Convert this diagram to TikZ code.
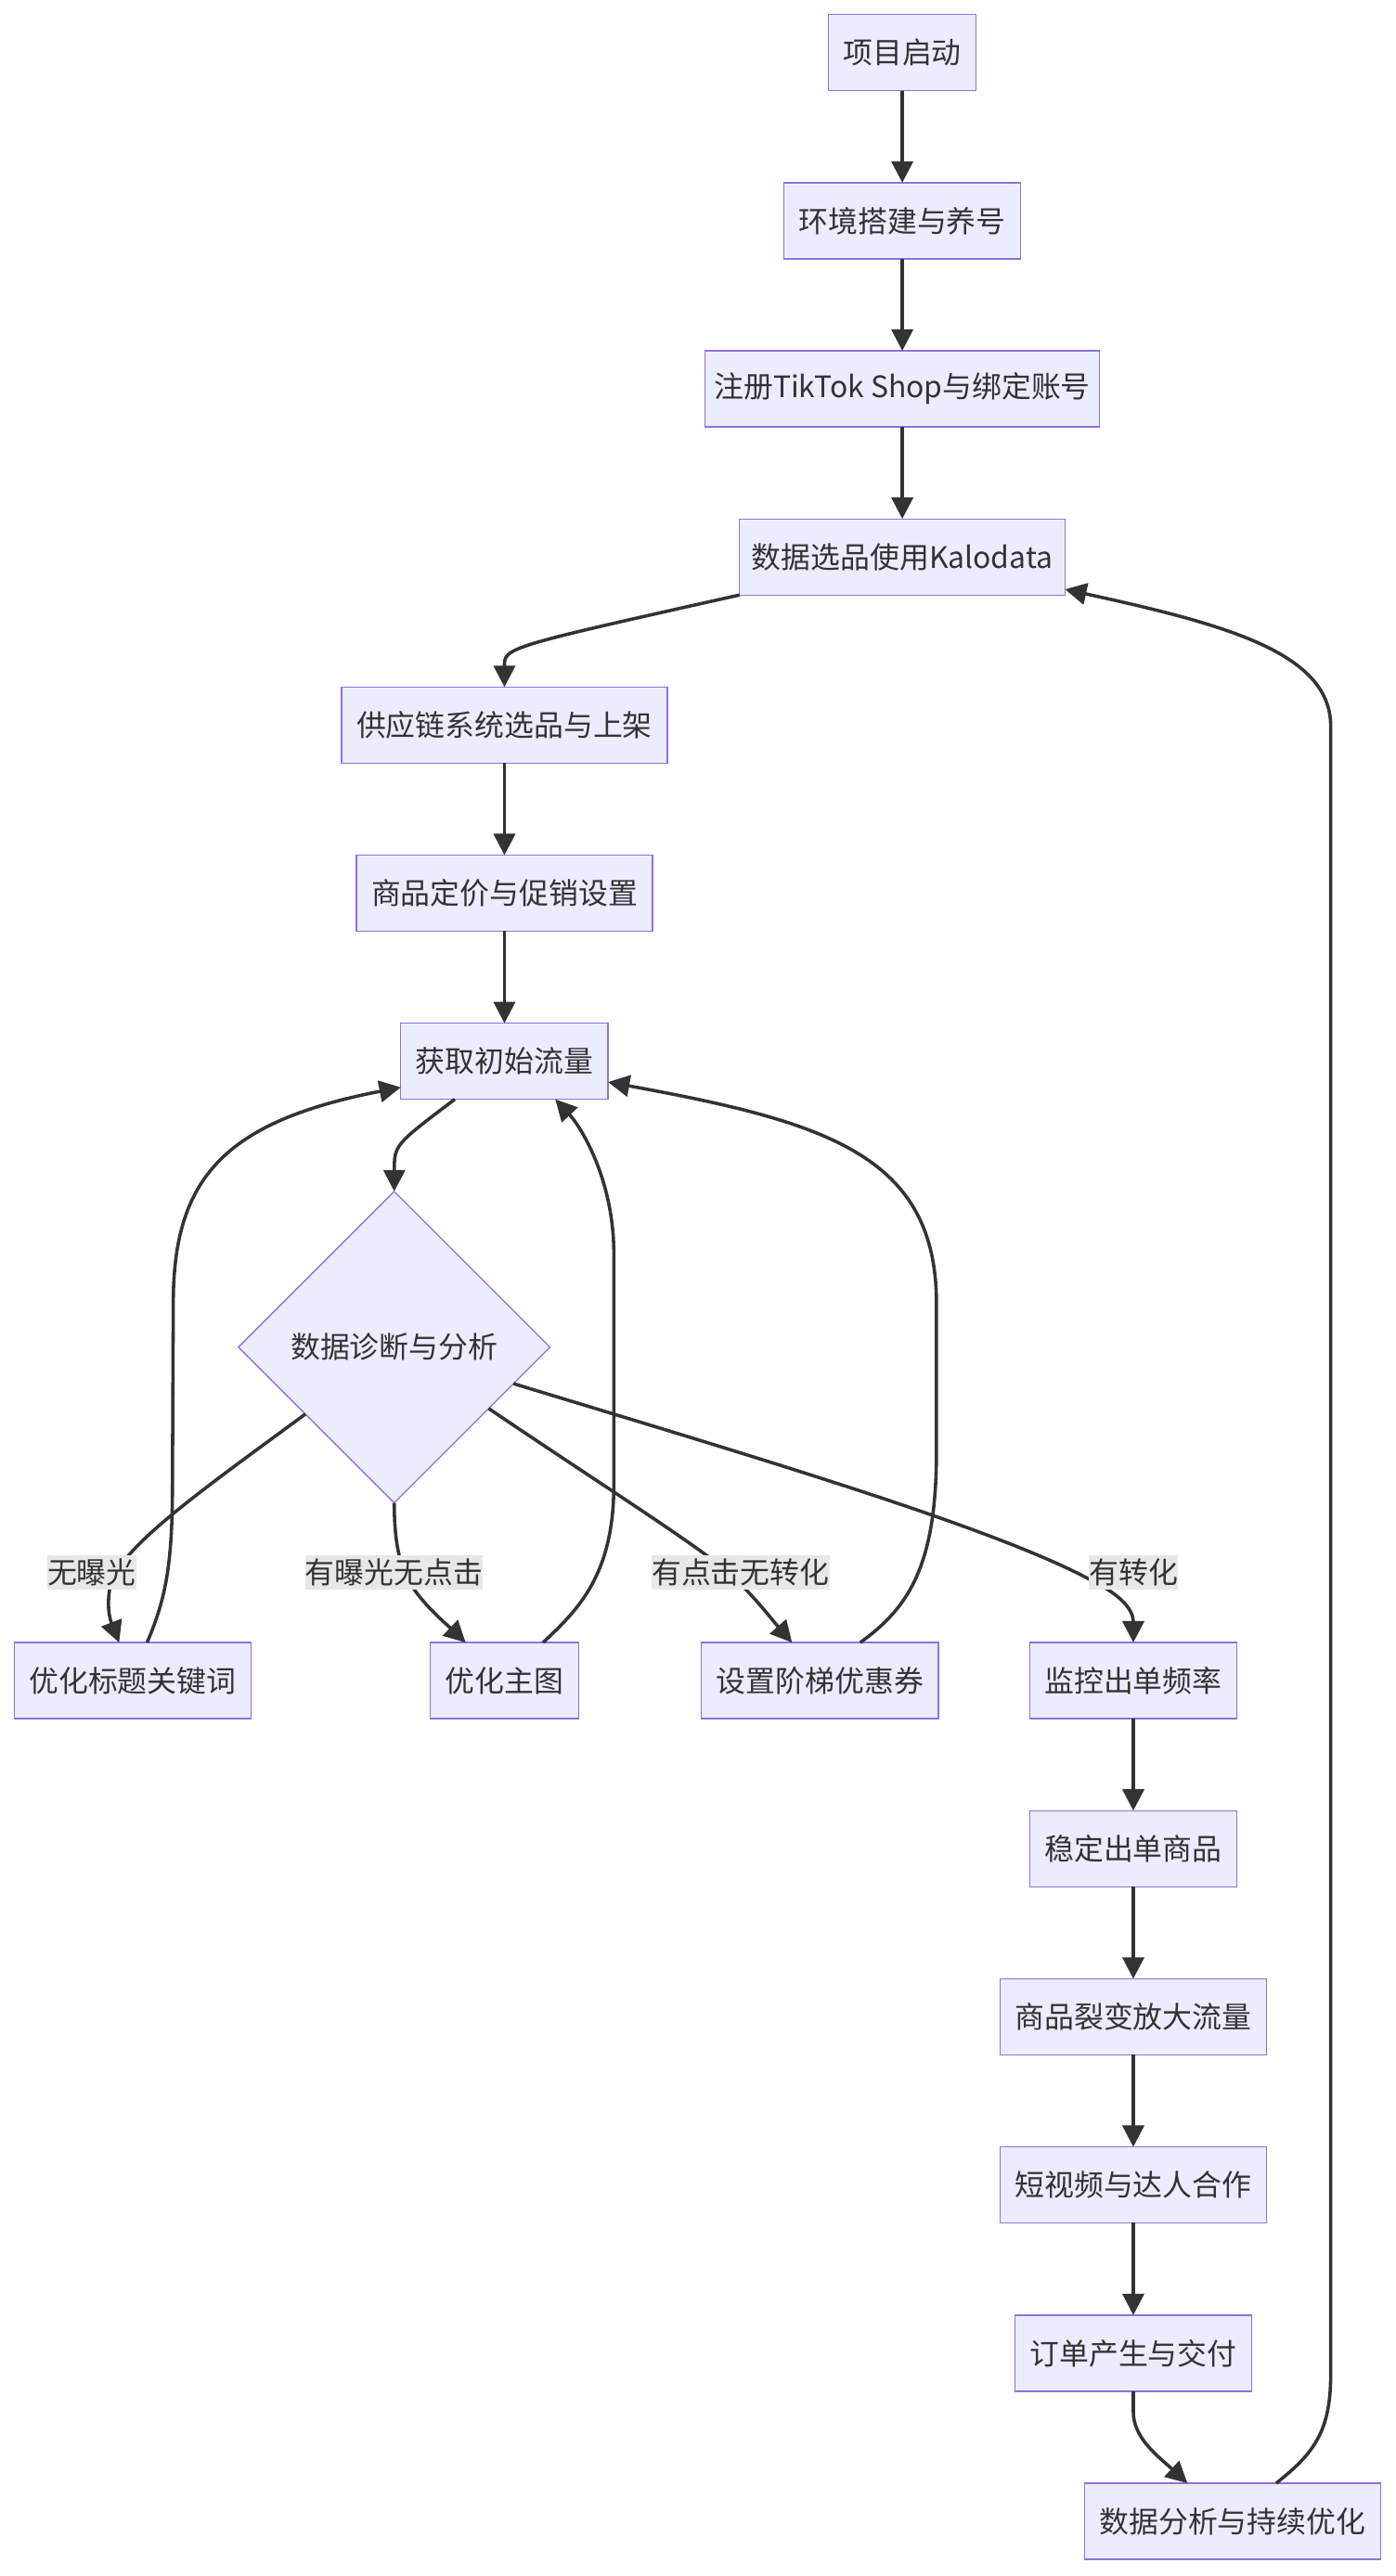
\documentclass[tikz,border=0pt]{standalone}
\usepackage{fontspec}
\newfontfamily\cjkf{Noto Sans CJK SC}
\usetikzlibrary{arrows.meta,shapes.geometric}
\definecolor{boxfill}{HTML}{ECECFF}
\definecolor{boxline}{HTML}{9370DB}
\definecolor{ink}{HTML}{333333}
\definecolor{lblbg}{HTML}{E8E8E8}
\begin{document}
\begin{tikzpicture}[x=1pt,y=-1pt,
  box/.style={draw=boxline, fill=boxfill, line width=0.75pt, minimum height=46.1pt,
    inner sep=0pt, outer sep=0pt, text=ink, font=\cjkf\fontsize{17.93pt}{21.1pt}\selectfont},
  decision/.style={diamond, aspect=1, draw=boxline, fill=boxfill, line width=0.75pt,
    minimum width=188.8pt, minimum height=188.8pt, inner sep=0pt, outer sep=0pt,
    text=ink, font=\cjkf\fontsize{17.93pt}{21.1pt}\selectfont},
  lbl/.style={fill=lblbg, inner sep=0pt, minimum height=21.1pt, text=ink,
    font=\cjkf\fontsize{17.93pt}{21.1pt}\selectfont},
  conn/.style={draw=ink, line width=2pt, -{Triangle[length=13pt,width=13pt]}}]
\useasboundingbox (0,0) rectangle (846,1561.5);
\fill[white] (0,0) rectangle (846,1561.5);

% nodes
\node[box, minimum width=89.7pt]  (n1)   at (546.8,31.9)  {项目启动};
\node[box, minimum width=143.5pt] (n2)   at (546.8,133.8) {环境搭建与养号};
\node[box, minimum width=238.9pt] (n3)   at (546.8,235.7) {注册TikTok Shop与绑定账号};
\node[box, minimum width=197.2pt] (kalo) at (546.8,337.6) {数据选品使用Kalodata};
\node[box, minimum width=197.3pt] (sc)   at (305.7,439.5) {供应链系统选品与上架};
\node[box, minimum width=179.4pt] (pr)   at (305.7,541.4) {商品定价与促销设置};
\node[box, minimum width=125.6pt] (gq)   at (305.7,643.3) {获取初始流量};
\node[decision] (dia) at (238.9,816.6) {数据诊断与分析};
\node[box, minimum width=143.5pt] (t1)   at (80.4,1018.7)  {优化标题关键词};
\node[box, minimum width=89.7pt]  (t2)   at (305.7,1018.7) {优化主图};
\node[box, minimum width=143.5pt] (t3)   at (496.9,1018.7) {设置阶梯优惠券};
\node[box, minimum width=125.6pt] (t4)   at (686.8,1018.7) {监控出单频率};
\node[box, minimum width=125.6pt] (st)   at (686.8,1120.6) {稳定出单商品};
\node[box, minimum width=161.4pt] (fx)   at (686.8,1222.5) {商品裂变放大流量};
\node[box, minimum width=161.4pt] (sv)   at (686.8,1324.4) {短视频与达人合作};
\node[box, minimum width=143.5pt] (od)   at (686.8,1426.4) {订单产生与交付};
\node[box, minimum width=179.4pt] (da)   at (746.9,1528.3) {数据分析与持续优化};

% straight connectors
\draw[conn] (n1.south) -- (n2.north);
\draw[conn] (n2.south) -- (n3.north);
\draw[conn] (n3.south) -- (kalo.north);
\draw[conn] (sc.south) -- (pr.north);
\draw[conn] (pr.south) -- (gq.north);
\draw[conn] (t4.south) -- (st.north);
\draw[conn] (st.south) -- (fx.north);
\draw[conn] (fx.south) -- (sv.north);
\draw[conn] (sv.south) -- (od.north);

% curved connectors
\draw[conn] (kalo.south west) .. controls (305.7,392.5) and (305.7,392.5) .. (sc.north);
\draw[conn] ([xshift=-30.1pt]gq.south) .. controls (239,694) and (239,694) .. (dia.north);
\draw[conn] (dia.217.2) .. controls (120,905) and (70,940) .. (66.5,963)
  .. controls (64,978) and (68.5,986) .. ([xshift=-8.2pt]t1.north);
\draw[conn] (dia.south) .. controls (239,935) and (242,950) .. (250,962)
  .. controls (258,974) and (270,984) .. ([xshift=-23.5pt]t2.north);
\draw[conn] (dia.-33.6) .. controls (360,897) and (420,935) .. (440,952)
  .. controls (456,966) and (468,982) .. ([xshift=-16.9pt]t3.north);
\draw[conn] (dia.-17.4) .. controls (450,881) and (600,925) .. (660,957.2)
  .. controls (678,966) and (686.8,975) .. (t4.north);
\draw[conn] ([xshift=8.75pt]t1.north) .. controls (100,970) and (104.5,950) .. (104.5,900)
  -- (105,790) .. controls (105,715) and (135,680) .. ([yshift=-15.8pt]gq.west);
\draw[conn] ([xshift=23.4pt]t2.north) .. controls (350,976) and (372,955) .. (372,900)
  -- (372,760) .. controls (372,715) and (352,683) .. ([xshift=30.8pt]gq.south);
\draw[conn] ([xshift=24.4pt]t3.north) .. controls (550,975) and (567.5,950) .. (567.5,880)
  -- (567.5,790) .. controls (567.5,700) and (500,680) .. ([yshift=-12.6pt]gq.east);
\draw[conn] (od.south) -- (686.8,1462) .. controls (686.8,1478) and (702,1489) .. ([xshift=-27.3pt]da.north);
\draw[conn] ([xshift=26.5pt]da.north) .. controls (795,1488) and (806.4,1475) .. (806.4,1440)
  -- (806.4,440) .. controls (806.4,395) and (740,378) .. ([yshift=-19.6pt]kalo.east);

% edge labels
\node[lbl, minimum width=53.8pt]  (l1) at (55.6,953.2)  {无曝光};
\node[lbl, minimum width=107.6pt] (l2) at (238.7,953.2) {有曝光无点击};
\node[lbl, minimum width=107.6pt] (l3) at (448.8,953.2) {有点击无转化};
\node[lbl, minimum width=53.8pt]  (l4) at (686.9,953.2) {有转化};
\end{tikzpicture}
\end{document}
